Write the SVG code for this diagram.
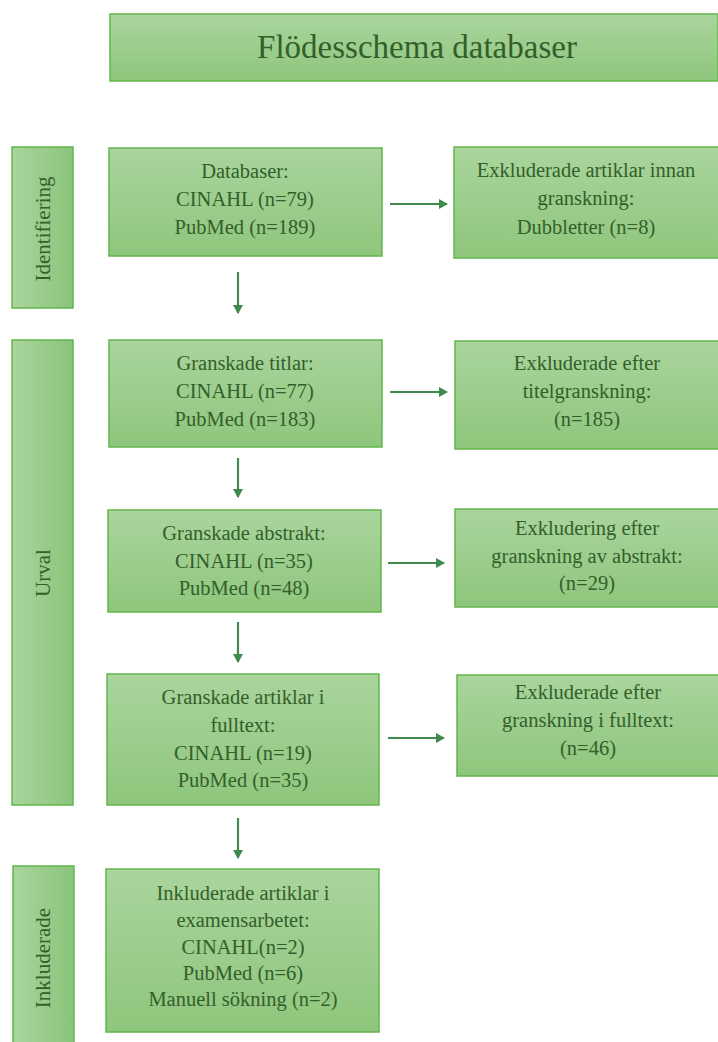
<svg xmlns="http://www.w3.org/2000/svg" width="718" height="1042" viewBox="0 0 718 1042">
<defs>
<linearGradient id="gv" x1="0" y1="0" x2="0" y2="1">
<stop offset="0" stop-color="#aad59d"/>
<stop offset="1" stop-color="#8ec67c"/>
</linearGradient>
<linearGradient id="gh" x1="0" y1="0" x2="1" y2="0">
<stop offset="0" stop-color="#aad59d"/>
<stop offset="1" stop-color="#8ac47a"/>
</linearGradient>
<marker id="ah" markerUnits="userSpaceOnUse" markerWidth="10" markerHeight="12" refX="8" refY="6" orient="auto">
<path d="M0,1 L9,6 L0,11 Z" fill="#3f8a4c"/>
</marker>
<style>
.box{fill:url(#gv);stroke:#62b64c;stroke-width:1.5}
.side{fill:url(#gh);stroke:#62b64c;stroke-width:1.5}
text{font-family:"Liberation Serif","Times New Roman",Times,"DejaVu Serif","Noto Serif",serif;fill:#33602a;text-anchor:middle}
.t{font-size:20.5px}
.st{font-size:21px}
.title{font-size:33px}
.c{stroke:#3f8a4c;stroke-width:2.2;fill:none;marker-end:url(#ah)}
</style>
</defs>
<g id="title">
<rect class="box" x="110" y="14" width="608" height="67"/>
<text class="title" x="417" y="58">Flödesschema databaser</text>
</g>
<g id="label-identifiering">
<rect class="side" x="12" y="147" width="61" height="161"/>
<text class="st" transform="translate(50,229) rotate(-90)">Identifiering</text>
</g>
<g id="label-urval">
<rect class="side" x="12" y="340" width="61" height="465"/>
<text class="st" transform="translate(50,573) rotate(-90)">Urval</text>
</g>
<g id="label-inkluderade">
<rect class="side" x="13" y="866" width="61" height="180"/>
<text class="st" transform="translate(50,958) rotate(-90)">Inkluderade</text>
</g>
<g id="databaser">
<rect class="box" x="109" y="148" width="273" height="108"/>
<text class="t" x="245" y="178">Databaser:</text>
<text class="t" x="245" y="206">CINAHL (n=79)</text>
<text class="t" x="245" y="234">PubMed (n=189)</text>
</g>
<g id="exkl-dubbletter">
<rect class="box" x="454" y="147" width="266" height="111"/>
<text class="t" x="586" y="177">Exkluderade artiklar innan</text>
<text class="t" x="586" y="205">granskning:</text>
<text class="t" x="586" y="234">Dubbletter (n=8)</text>
</g>
<g id="granskade-titlar">
<rect class="box" x="109" y="340" width="273" height="107"/>
<text class="t" x="245" y="370">Granskade titlar:</text>
<text class="t" x="245" y="398">CINAHL (n=77)</text>
<text class="t" x="245" y="426">PubMed (n=183)</text>
</g>
<g id="exkl-titel">
<rect class="box" x="455" y="341" width="265" height="108"/>
<text class="t" x="587" y="370">Exkluderade efter</text>
<text class="t" x="587" y="398">titelgranskning:</text>
<text class="t" x="587" y="426">(n=185)</text>
</g>
<g id="granskade-abstrakt">
<rect class="box" x="108" y="510" width="273" height="102"/>
<text class="t" x="244" y="540">Granskade abstrakt:</text>
<text class="t" x="244" y="568">CINAHL (n=35)</text>
<text class="t" x="244" y="595">PubMed (n=48)</text>
</g>
<g id="exkl-abstrakt">
<rect class="box" x="455" y="509" width="265" height="98"/>
<text class="t" x="587" y="535">Exkludering efter</text>
<text class="t" x="587" y="563">granskning av abstrakt:</text>
<text class="t" x="587" y="590">(n=29)</text>
</g>
<g id="granskade-fulltext">
<rect class="box" x="107" y="674" width="272" height="131"/>
<text class="t" x="243" y="704">Granskade artiklar i</text>
<text class="t" x="243" y="732">fulltext:</text>
<text class="t" x="243" y="760">CINAHL (n=19)</text>
<text class="t" x="243" y="787">PubMed (n=35)</text>
</g>
<g id="exkl-fulltext">
<rect class="box" x="457" y="675" width="263" height="101"/>
<text class="t" x="588" y="699">Exkluderade efter</text>
<text class="t" x="588" y="727">granskning i fulltext:</text>
<text class="t" x="588" y="755">(n=46)</text>
</g>
<g id="inkluderade">
<rect class="box" x="106" y="869" width="273" height="163"/>
<text class="t" x="243" y="900">Inkluderade artiklar i</text>
<text class="t" x="243" y="927">examensarbetet:</text>
<text class="t" x="243" y="954">CINAHL(n=2)</text>
<text class="t" x="243" y="980">PubMed (n=6)</text>
<text class="t" x="243" y="1006">Manuell sökning (n=2)</text>
</g>
<g id="connectors">
<line class="c" x1="390" y1="204" x2="447" y2="204"/>
<line class="c" x1="390" y1="392" x2="447" y2="392"/>
<line class="c" x1="388" y1="563" x2="444" y2="563"/>
<line class="c" x1="388" y1="738" x2="444" y2="738"/>
<line class="c" x1="238" y1="272" x2="238" y2="313"/>
<line class="c" x1="238" y1="458" x2="238" y2="497"/>
<line class="c" x1="238" y1="622" x2="238" y2="662"/>
<line class="c" x1="238" y1="818" x2="238" y2="858"/>
</g>
</svg>
